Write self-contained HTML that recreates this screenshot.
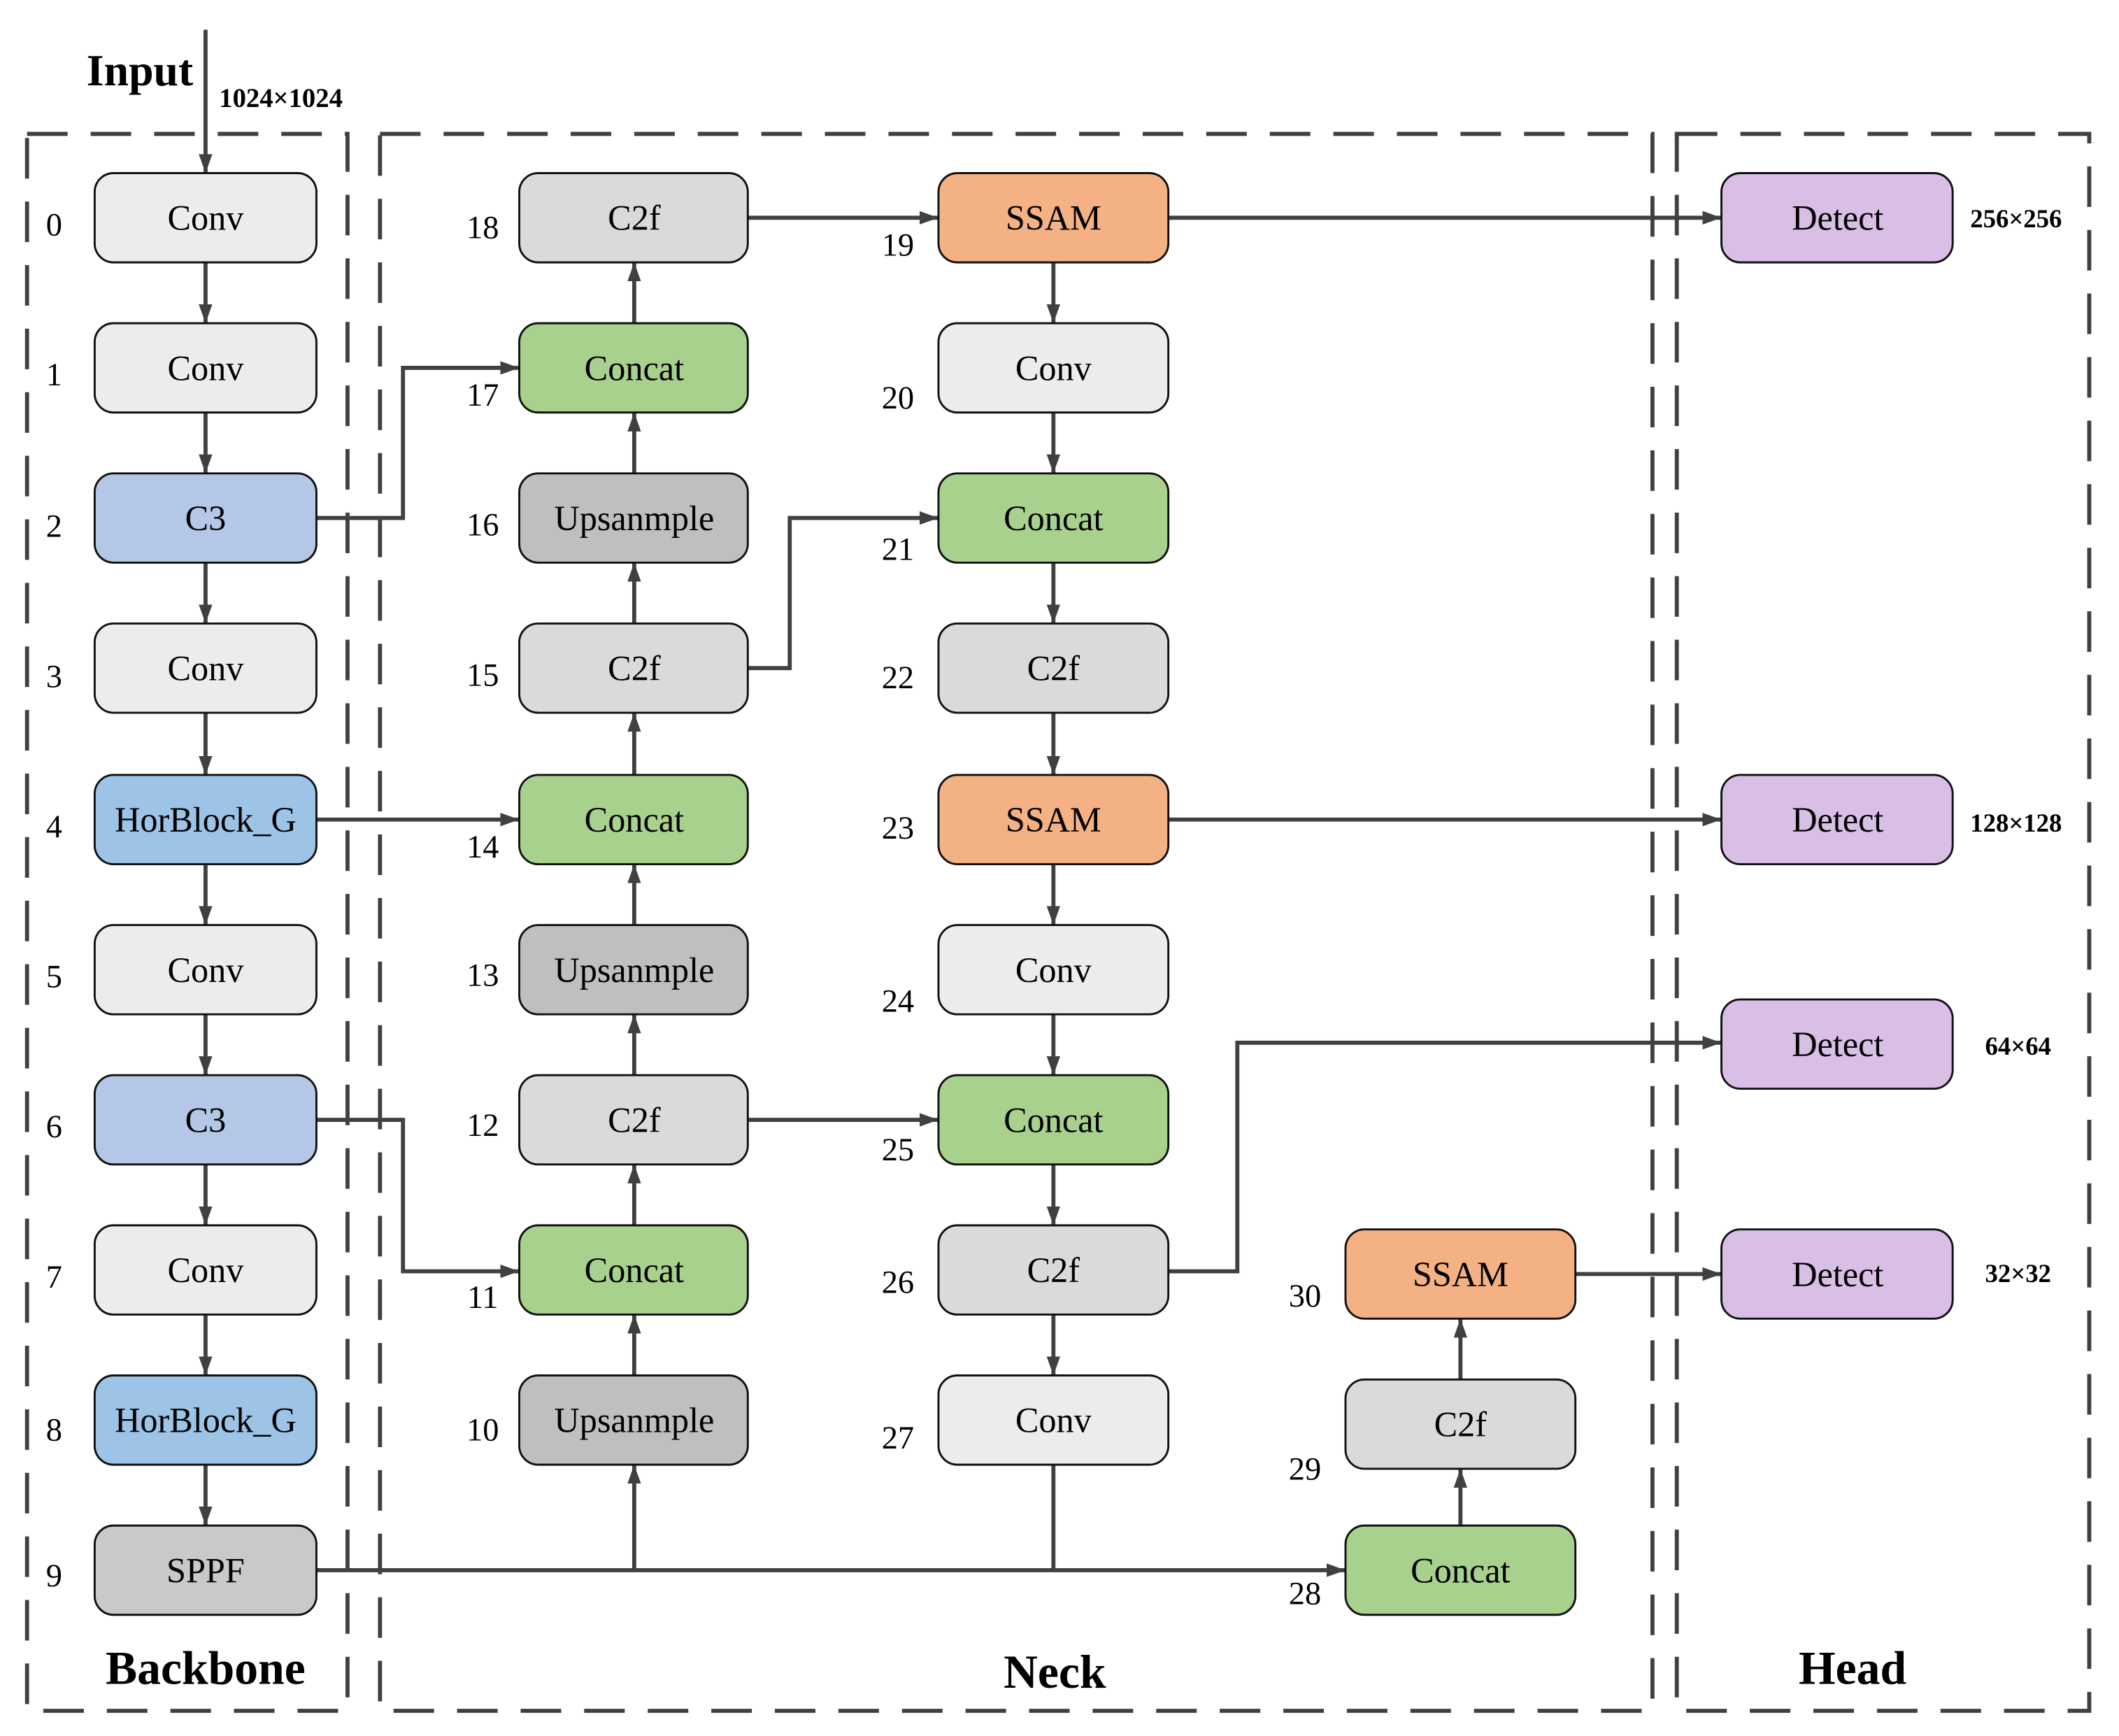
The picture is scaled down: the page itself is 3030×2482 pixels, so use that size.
<!DOCTYPE html>
<html><head><meta charset="utf-8"><style>html,body{margin:0;padding:0;background:#fff}svg{display:block}text{font-family:"Liberation Serif","Times New Roman",serif}</style></head><body>
<svg width="3030" height="2482" viewBox="0 0 1567 1283.6" xmlns="http://www.w3.org/2000/svg" style="font-family:'Liberation Serif',serif">
<defs><marker id="a" viewBox="0 0 14 10" refX="14" refY="5" markerWidth="14" markerHeight="10" markerUnits="userSpaceOnUse" orient="auto"><path d="M0,0 L14,5 L0,10 z" fill="#404040"/></marker></defs>
<g fill="none" stroke="#404040" stroke-width="3" stroke-dasharray="30,17">
<rect x="20" y="99" width="237" height="1166"/>
<rect x="281" y="99" width="941" height="1166"/>
<rect x="1240" y="99" width="305" height="1166"/>
</g>
<g stroke="#404040" stroke-width="3" fill="none" marker-end="url(#a)">
<path d="M152 22V128"/>
<path d="M152 194V239"/><path d="M152 305V350"/><path d="M152 416V461"/><path d="M152 527V573"/><path d="M152 639V684"/><path d="M152 750V795"/><path d="M152 861V906"/><path d="M152 972V1017"/><path d="M152 1083V1128"/>
<path d="M234 383H298V272H384"/>
<path d="M234 606H384"/>
<path d="M234 828H298V940H384"/>
<path d="M234 1161H995"/>
<path d="M469 1161V1083"/>
<path d="M779 1083V1161" marker-end="none"/>
<path d="M469 1017V972"/><path d="M469 906V861"/><path d="M469 795V750"/><path d="M469 684V639"/><path d="M469 573V527"/><path d="M469 461V416"/><path d="M469 350V305"/><path d="M469 239V194"/>
<path d="M553 494H584V383H694"/>
<path d="M553 828H694"/>
<path d="M553 161H694"/>
<path d="M779 194V239"/><path d="M779 305V350"/><path d="M779 416V461"/><path d="M779 527V573"/><path d="M779 639V684"/><path d="M779 750V795"/><path d="M779 861V906"/><path d="M779 972V1017"/>
<path d="M864 161H1273"/><path d="M864 606H1273"/>
<path d="M864 940H915V771H1273"/>
<path d="M1080 1128V1086"/><path d="M1080 1020V975"/>
<path d="M1165 942H1273"/>
</g>
<g stroke="#111" stroke-width="1.5">
<g fill="#ececec"><rect x="70" y="128" width="164" height="66" rx="14"/><rect x="70" y="239" width="164" height="66" rx="14"/><rect x="70" y="461" width="164" height="66" rx="14"/><rect x="70" y="684" width="164" height="66" rx="14"/><rect x="70" y="906" width="164" height="66" rx="14"/>
<rect x="694" y="239" width="170" height="66" rx="14"/><rect x="694" y="684" width="170" height="66" rx="14"/><rect x="694" y="1017" width="170" height="66" rx="14"/></g>
<g fill="#b4c7e7"><rect x="70" y="350" width="164" height="66" rx="14"/><rect x="70" y="795" width="164" height="66" rx="14"/></g>
<g fill="#9dc3e6"><rect x="70" y="573" width="164" height="66" rx="14"/><rect x="70" y="1017" width="164" height="66" rx="14"/></g>
<rect x="70" y="1128" width="164" height="66" rx="14" fill="#c9c9c9"/>
<g fill="#dadada"><rect x="384" y="128" width="169" height="66" rx="14"/><rect x="384" y="461" width="169" height="66" rx="14"/><rect x="384" y="795" width="169" height="66" rx="14"/><rect x="694" y="461" width="170" height="66" rx="14"/><rect x="694" y="906" width="170" height="66" rx="14"/><rect x="995" y="1020" width="170" height="66" rx="14"/></g>
<g fill="#bfbfbf"><rect x="384" y="350" width="169" height="66" rx="14"/><rect x="384" y="684" width="169" height="66" rx="14"/><rect x="384" y="1017" width="169" height="66" rx="14"/></g>
<g fill="#a9d18e"><rect x="384" y="239" width="169" height="66" rx="14"/><rect x="384" y="573" width="169" height="66" rx="14"/><rect x="384" y="906" width="169" height="66" rx="14"/><rect x="694" y="350" width="170" height="66" rx="14"/><rect x="694" y="795" width="170" height="66" rx="14"/><rect x="995" y="1128" width="170" height="66" rx="14"/></g>
<g fill="#f4b183"><rect x="694" y="128" width="170" height="66" rx="14"/><rect x="694" y="573" width="170" height="66" rx="14"/><rect x="995" y="909" width="170" height="66" rx="14"/></g>
<g fill="#d9bfe6"><rect x="1273" y="128" width="171" height="66" rx="14"/><rect x="1273" y="573" width="171" height="66" rx="14"/><rect x="1273" y="739" width="171" height="66" rx="14"/><rect x="1273" y="909" width="171" height="66" rx="14"/></g>
</g>
<g font-size="26" text-anchor="middle" fill="#000">
<text x="152" y="170">Conv</text><text x="152" y="281">Conv</text><text x="152" y="392">C3</text><text x="152" y="503">Conv</text><text x="152" y="615">HorBlock_G</text><text x="152" y="726">Conv</text><text x="152" y="837">C3</text><text x="152" y="948">Conv</text><text x="152" y="1059">HorBlock_G</text><text x="152" y="1170">SPPF</text>
<text x="469" y="170">C2f</text><text x="469" y="281">Concat</text><text x="469" y="392">Upsanmple</text><text x="469" y="503">C2f</text><text x="469" y="615">Concat</text><text x="469" y="726">Upsanmple</text><text x="469" y="837">C2f</text><text x="469" y="948">Concat</text><text x="469" y="1059">Upsanmple</text>
<text x="779" y="170">SSAM</text><text x="779" y="281">Conv</text><text x="779" y="392">Concat</text><text x="779" y="503">C2f</text><text x="779" y="615">SSAM</text><text x="779" y="726">Conv</text><text x="779" y="837">Concat</text><text x="779" y="948">C2f</text><text x="779" y="1059">Conv</text>
<text x="1080" y="951">SSAM</text><text x="1080" y="1062">C2f</text><text x="1080" y="1170">Concat</text>
<text x="1359" y="170">Detect</text><text x="1359" y="615">Detect</text><text x="1359" y="781">Detect</text><text x="1359" y="951">Detect</text>
</g>
<g font-size="24" text-anchor="middle" fill="#000">
<text x="40" y="174">0</text><text x="40" y="285">1</text><text x="40" y="397">2</text><text x="40" y="508">3</text><text x="40" y="619">4</text><text x="40" y="730">5</text><text x="40" y="841">6</text><text x="40" y="952">7</text><text x="40" y="1065">8</text><text x="40" y="1173">9</text>
<text x="357" y="176">18</text><text x="357" y="300">17</text><text x="357" y="396">16</text><text x="357" y="507">15</text><text x="357" y="634">14</text><text x="357" y="729">13</text><text x="357" y="840">12</text><text x="357" y="967">11</text><text x="357" y="1065">10</text>
<text x="664" y="189">19</text><text x="664" y="302">20</text><text x="664" y="414">21</text><text x="664" y="509">22</text><text x="664" y="620">23</text><text x="664" y="748">24</text><text x="664" y="858">25</text><text x="664" y="956">26</text><text x="664" y="1071">27</text>
<text x="965" y="966">30</text><text x="965" y="1094">29</text><text x="965" y="1186">28</text>
</g>
<g font-weight="bold" fill="#000">
<text x="64" y="63" font-size="33">Input</text>
<text x="162" y="79" font-size="20">1024×1024</text>
<text x="1457" y="168" font-size="19">256×256</text>
<text x="1457" y="615" font-size="19">128×128</text>
<text x="1468" y="780" font-size="19">64×64</text>
<text x="1468" y="948" font-size="19">32×32</text>
<g font-size="35" text-anchor="middle"><text x="152" y="1245">Backbone</text><text x="780" y="1248">Neck</text><text x="1370" y="1245">Head</text></g>
</g>
</svg>
</body></html>
